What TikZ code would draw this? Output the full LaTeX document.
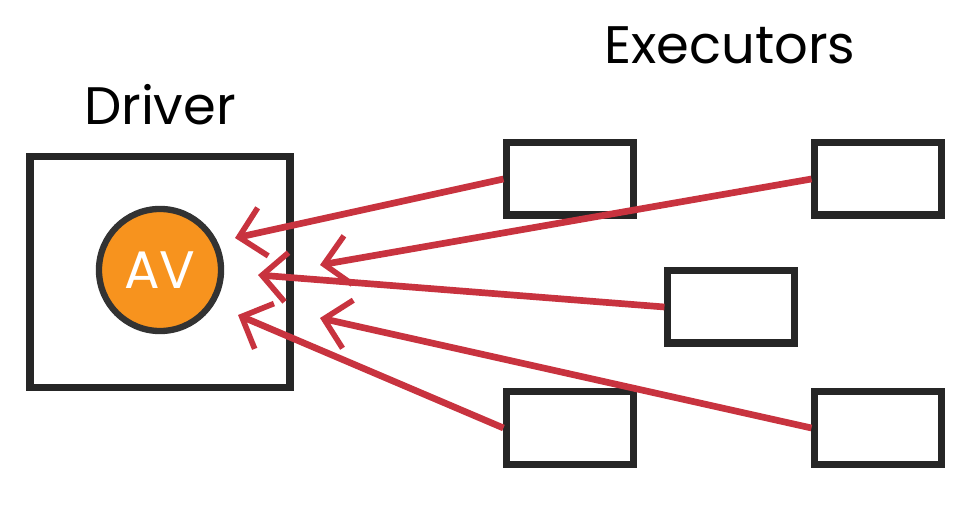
\documentclass[tikz,border=0pt]{standalone}
\usepackage{fontspec}
\setmainfont{Poppins}
\usetikzlibrary{arrows.meta}
\definecolor{arrred}{HTML}{C8333F}
\definecolor{avorange}{HTML}{F7931E}
\begin{document}
\begin{tikzpicture}[x=0.01cm,y=-0.01cm,
  exbox/.style={draw=black!85,line width=2pt,minimum width=1.26cm,minimum height=0.72cm,inner sep=0pt},
  flow/.style={draw=arrred,line width=1.9pt,-{Straight Barb[length=7pt,width=14pt,line width=1.6pt]}},
  lbl/.style={font=\fontsize{15}{18}\selectfont}]
\useasboundingbox (0,0) rectangle (967,519);
\node[draw=black!85,line width=2.2pt,minimum width=2.6cm,minimum height=2.31cm,inner sep=0pt] (drv) at (160,272) {};
\node[circle,draw=black!80,line width=1.8pt,fill=avorange,minimum size=1.22cm,inner sep=0pt,text=white,lbl] (av) at (160,270) {AV};
\node[lbl] (dl) at (160,105) {Driver};
\node[lbl] (el) at (730,45) {Executors};
\node[exbox] (e1) at (570,179) {};
\node[exbox] (e2) at (878,179) {};
\node[exbox] (e3) at (731,307) {};
\node[exbox] (e4) at (570,428) {};
\node[exbox] (e5) at (878,428) {};
\coordinate (t1) at (235,238);
\coordinate (t2) at (320,265);
\coordinate (t3) at (258,275);
\coordinate (t4) at (238,315);
\coordinate (t5) at (320,318);
\draw[flow] (e1.west) -- (t1);
\draw[flow] (e2.west) -- (t2);
\draw[flow] (e3.west) -- (t3);
\draw[flow] (e4.west) -- (t4);
\draw[flow] (e5.west) -- (t5);
\end{tikzpicture}
\end{document}
